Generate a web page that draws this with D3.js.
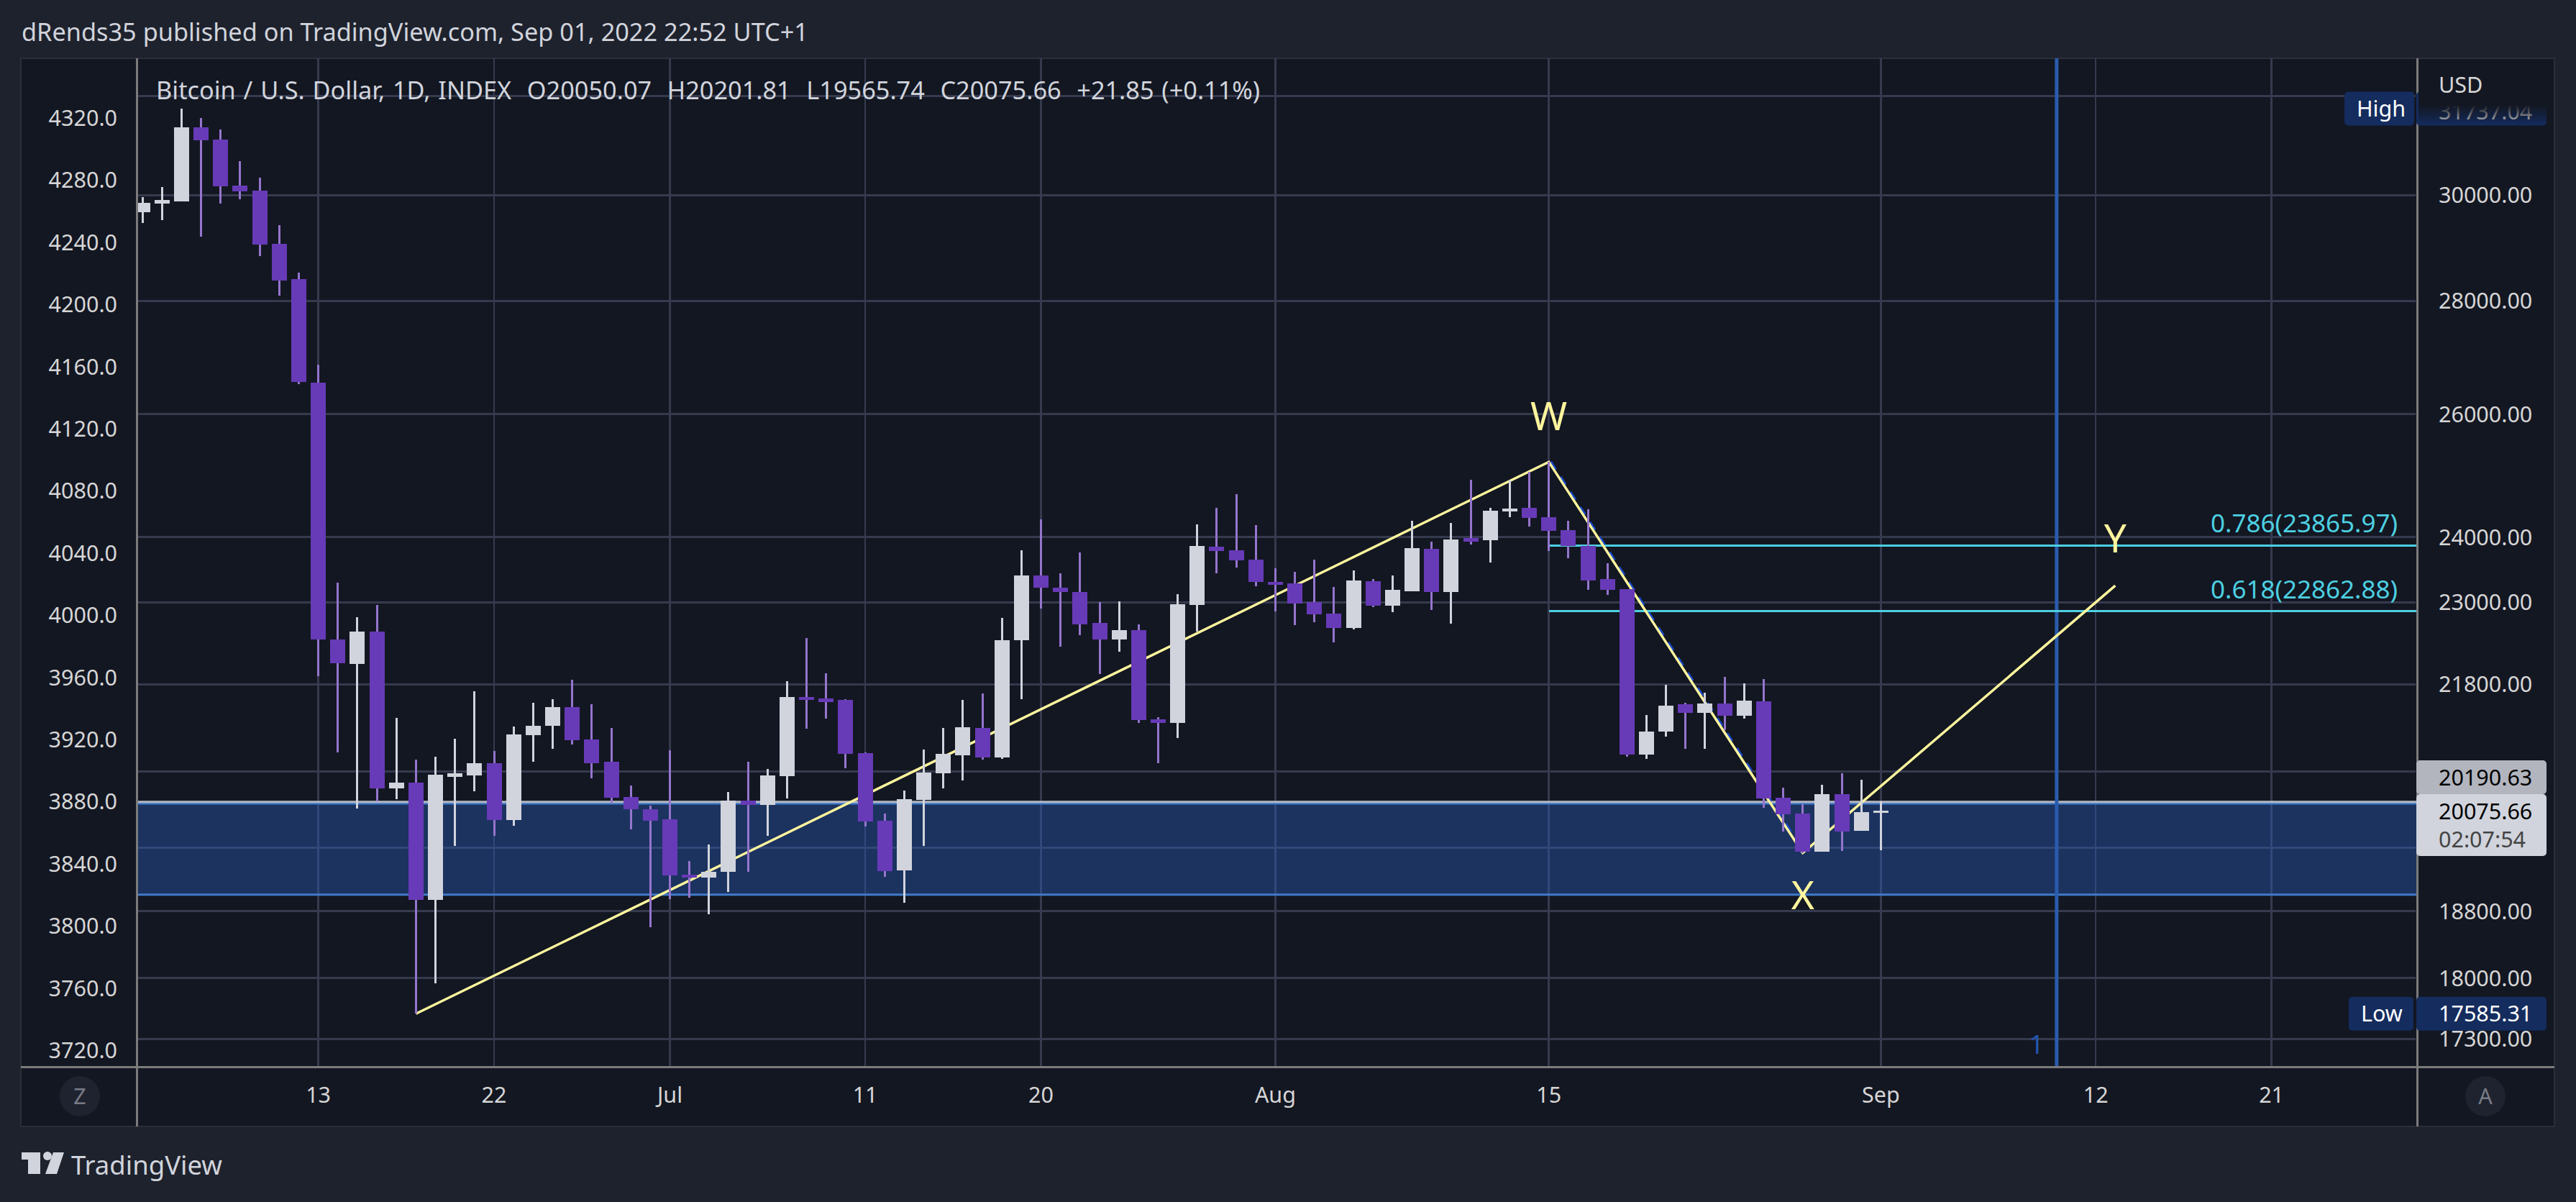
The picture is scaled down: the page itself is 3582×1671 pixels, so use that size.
<!DOCTYPE html>
<html><head><meta charset="utf-8">
<style>html,body{margin:0;padding:0;background:#1e222d;overflow:hidden}svg{display:block}text{font-family:"Noto Sans",sans-serif;white-space:pre}</style>
<script src="https://cdn.jsdelivr.net/npm/d3@7/dist/d3.min.js"></script>
</head><body><script>
// ---- data ----
const firstDay = "2022-06-04";
const opens = [29665,29830,29880,31355,31105,30185,30085,29060,28400,26545,22450,22095,22565,20370,20445,18940,20525,20545,20710,19955,21090,21220,21480,21030,20730,20255,20095,19965,19255,19220,19290,20210,20155,20535,21625,21605,21585,20845,19945,19310,20220,20575,20815,21190,20785,22440,23405,23220,23155,22695,22450,22585,21310,21260,22960,23850,23795,23650,23310,23285,23005,22830,22620,23320,22950,23170,23815,23155,23985,23950,24405,24460,24315,24110,23860,23350,23195,20825,21140,21520,21400,21530,21360,21560,20245,20040,19545,20295,19815,20050.07];
const highs = [29960,30155,31737,31545,31310,30670,30340,29415,28520,26855,23295,22780,22960,21330,20760,20795,21040,21705,20875,21210,21540,21595,21865,21520,21190,20410,20145,20885,19430,19640,20325,20730,20630,21845,22470,21960,21595,20855,20040,20340,20895,21190,21585,21675,22765,23795,24280,23440,23760,23005,23015,22670,21340,23125,24200,24460,24680,24190,23515,23460,23650,23230,23485,23350,23405,24255,23930,24225,24915,24460,24915,25040,25205,24255,24440,23595,23200,21370,21795,21535,21685,21910,21815,21875,20380,20165,20420,20575,20485,20201.81];
const lows = [29460,29515,29870,29195,29830,29915,28830,28095,26520,21915,20855,20105,20200,20230,17585,17940,19620,20330,19750,19880,20730,20905,20965,20505,20170,19835,18605,18950,18970,18765,19040,19290,19750,20240,21180,21320,20640,19870,19230,18905,19615,20370,20475,20760,20770,21595,22905,22345,22515,21950,22270,21260,20710,21050,22565,23440,23530,23245,22865,22660,22705,22405,22600,22930,22850,23165,22885,22685,23885,23605,24315,24165,23785,23670,23190,23110,20795,20770,21070,20905,20905,21160,21320,20115,19805,19530,19545,19555,19815,19565.74];
const closes = [29850,29900,31355,31090,30170,30070,29045,28370,26555,22450,22105,22565,20370,20445,18940,20555,20575,20710,19955,21100,21220,21480,21020,20710,20245,20090,19945,19245,19220,19290,20210,20155,20545,21625,21585,21550,20835,19935,19300,20230,20585,20835,21200,20785,22440,23405,23220,23155,22670,22450,22585,21300,21260,22970,23860,23785,23640,23310,23265,22985,22820,22620,23330,22950,23190,23830,23155,23960,23930,24415,24450,24300,24100,23860,23330,23190,20825,21140,21500,21400,21530,21360,21570,20240,20030,19545,20295,19805,20054,20075.66];

const priceGrid = [32000,30000,28000,26000,24000,23000,21800,20600,19600,18800,18000,17300];
const priceLabels = [30000,28000,26000,24000,23000,21800,18800,18000,17300];
const indexLabels = [4320,4280,4240,4200,4160,4120,4080,4040,4000,3960,3920,3880,3840,3800,3760,3720];
const timeTickDates = ["2022-06-13","2022-06-22","2022-07-01","2022-07-11","2022-07-20","2022-08-01","2022-08-15","2022-09-01","2022-09-12","2022-09-21"];
const timeTickLabels = ["13","22","Jul","11","20","Aug","15","Sep","12","21"];
const wave = [["2022-06-18",17585],["2022-08-15",25205],["2022-08-28",19530],["2022-09-13",23250]];
const waveLabels = [["W","2022-08-15",25975],["X","2022-08-28",19005],["Y","2022-09-13",23985]];
const fibLevels = [["0.786",23865.97],["0.618",22862.88]];
const fibStart = "2022-08-15";
const bandPrices = [20170,19005];
const markerDate = "2022-09-10";
const lastPrevClose = 20190.63, lastClose = 20075.66, seriesHigh = 31737.04, seriesLow = 17585.31;
const titleText = "dRends35 published on TradingView.com, Sep 01, 2022 22:52 UTC+1";
const legendText = "Bitcoin / U.S. Dollar, 1D, INDEX  O20050.07  H20201.81  L19565.74  C20075.66  +21.85 (+0.11%)";

// ---- geometry & style ----
const W=3582,H=1671,L=190,R=3361,T=81,B=1483,FL=29,FR=3552,FB=1566;
const FS=30.5, grid="#363a4e", bg="#131722", outer="#1e222d", axisLine="#7b7b7b", ink="#d6d6d6";
const up="#d1d4dc", down="#673ab7", downWick="#9575cd", yellow="#fff59d", cyan="#4dd0e1", badge="#142c5e";

const parse = d3.utcParse("%Y-%m-%d");
const x = d3.scaleUtc().domain([parse("2022-06-13"),parse("2022-09-21")]).range([442.6,3158.6]);
const y = d3.scaleLog().domain([32798,16987]).range([T,B]);
const yIndex = d3.scaleLinear().domain([3720,4320]).range([1460,164]);
const candles = opens.map((o,i)=>({date:d3.utcDay.offset(parse(firstDay),i),o,h:highs[i],l:lows[i],c:closes[i]}));

const svg = d3.select("body").append("svg").attr("width",W).attr("height",H).attr("viewBox",`0 0 ${W} ${H}`);
const defs = svg.append("defs");
defs.append("clipPath").attr("id","plot").append("rect").attr("x",L).attr("y",T).attr("width",R-L).attr("height",B-T);
const grad = defs.append("linearGradient").attr("id","fade").attr("x1",0).attr("y1",0).attr("x2",0).attr("y2",1);
grad.append("stop").attr("offset",0.4).attr("stop-color",bg).attr("stop-opacity",1);
grad.append("stop").attr("offset",1).attr("stop-color",bg).attr("stop-opacity",0);

svg.append("rect").attr("width",W).attr("height",H).attr("fill",outer);
svg.append("rect").attr("x",FL).attr("y",T).attr("width",FR-FL).attr("height",FB-T).attr("fill",bg).attr("stroke","#2a2e39").attr("stroke-width",2);

const plot = svg.append("g").attr("clip-path","url(#plot)");
const crisp = plot.append("g").attr("shape-rendering","crispEdges");
crisp.selectAll(".vg").data(timeTickDates).join("line").attr("x1",d=>x(parse(d))).attr("x2",d=>x(parse(d))).attr("y1",T).attr("y2",B).attr("stroke",grid).attr("stroke-width",2.5);
crisp.selectAll(".hg").data(priceGrid).join("line").attr("class","hg").attr("x1",L).attr("x2",R-2).attr("y1",d=>y(d)).attr("y2",d=>y(d)).attr("stroke",grid).attr("stroke-width",3);

// band
plot.append("rect").attr("x",L).attr("width",R-L).attr("y",y(bandPrices[0])).attr("height",y(bandPrices[1])-y(bandPrices[0])).attr("fill","rgba(42,95,190,.4)");
plot.selectAll(".bl").data(bandPrices).join("line").attr("x1",L).attr("x2",R).attr("y1",d=>y(d)).attr("y2",d=>y(d)).attr("stroke","#3f7bc9").attr("stroke-width",3);
plot.append("line").attr("x1",L).attr("x2",R).attr("y1",y(lastPrevClose)).attr("y2",y(lastPrevClose)).attr("stroke","#b6b8c2").attr("stroke-width",3);

// vertical marker
plot.append("line").attr("x1",x(parse(markerDate))).attr("x2",x(parse(markerDate))).attr("y1",T).attr("y2",B).attr("stroke","#2a5bad").attr("stroke-width",5);
svg.append("text").attr("x",x(parse(markerDate))-28).attr("y",1452).attr("dy",".36em").attr("text-anchor","middle").attr("font-size",37).attr("fill","#2456ad").text("1");

// fib
plot.append("g").attr("shape-rendering","crispEdges").selectAll(".fib").data(fibLevels).join("line").attr("x1",x(parse(fibStart))).attr("x2",R).attr("y1",d=>y(d[1])).attr("y2",d=>y(d[1])).attr("stroke",cyan).attr("stroke-width",3);
svg.selectAll(".fibt").data(fibLevels).join("text").attr("x",3334).attr("y",d=>y(d[1])-31).attr("dy",".36em").attr("text-anchor","end").attr("font-size",35).attr("fill",cyan).text(d=>`${d[0]}(${d[1].toFixed(2)})`);

// wave lines
const waveLine = d3.line().x(d=>x(parse(d[0]))).y(d=>y(d[1]));
plot.append("path").attr("d",waveLine(wave.slice(1,3))).attr("transform","translate(2,0)").attr("fill","none").attr("stroke","#1848c8").attr("stroke-width",5).attr("stroke-dasharray","13 12");
plot.append("path").attr("d",waveLine(wave)).attr("fill","none").attr("stroke",yellow).attr("stroke-width",3.5);

// candles
const cg = plot.append("g").attr("shape-rendering","crispEdges");
cg.selectAll(".wick").data(candles).join("line").attr("x1",d=>x(d.date)).attr("x2",d=>x(d.date)).attr("y1",d=>y(d.h)).attr("y2",d=>y(d.l)).attr("stroke",d=>d.c>=d.o?up:downWick).attr("stroke-width",3);
cg.selectAll(".body").data(candles).join("rect").attr("x",d=>x(d.date)-10.5).attr("width",21).attr("y",d=>y(Math.max(d.o,d.c))).attr("height",d=>Math.max(2,Math.abs(y(d.o)-y(d.c)))).attr("fill",d=>d.c>=d.o?up:down);

// W X Y
svg.selectAll(".wl").data(waveLabels).join("text").attr("x",d=>x(parse(d[1]))).attr("y",d=>y(d[2])).attr("dy",".36em").attr("text-anchor","middle").attr("font-size",55).attr("fill",yellow).text(d=>d[0]);

// axis lines
const ax = svg.append("g").attr("stroke",axisLine).attr("stroke-width",3).attr("shape-rendering","crispEdges");
ax.append("line").attr("x1",L).attr("x2",L).attr("y1",T).attr("y2",FB);
ax.append("line").attr("x1",R).attr("x2",R).attr("y1",T).attr("y2",FB);
ax.append("line").attr("x1",FL).attr("x2",FR).attr("y1",B).attr("y2",B);

// texts
const txt=(s,xx,yy,opt={})=>svg.append("text").attr("x",xx).attr("y",yy).attr("dy",".36em").attr("font-size",opt.fs||FS).attr("fill",opt.fill||ink).attr("text-anchor",opt.anchor||"start").attr("word-spacing",opt.ws||0).text(s);
txt(titleText,30,45,{fill:up,fs:34.3});
txt(legendText,217,126,{fill:up,fs:34.3,ws:1.9});
svg.selectAll(".li").data(indexLabels).join("text").attr("x",163).attr("y",d=>yIndex(d)).attr("dy",".36em").attr("text-anchor","end").attr("font-size",FS).attr("fill",ink).text(d=>d.toFixed(1));
svg.selectAll(".lp").data(priceLabels).join("text").attr("x",3391).attr("y",d=>y(d)).attr("dy",".36em").attr("font-size",FS).attr("fill",ink).text(d=>d.toFixed(2));
svg.selectAll(".lt").data(timeTickDates).join("text").attr("x",d=>x(parse(d))).attr("y",1522).attr("dy",".36em").attr("text-anchor","middle").attr("font-size",FS).attr("fill",ink).text((d,i)=>timeTickLabels[i]);

// High badge
const box=(x0,x1,y0,y1,fill)=>svg.append("rect").attr("x",x0).attr("y",y0).attr("width",x1-x0).attr("height",y1-y0).attr("rx",5).attr("fill",fill);
const hy=y(seriesHigh);
box(3260,3357,hy-23.5,hy+23.5,badge);
box(3360,3541,hy-23.5,hy+23.5,badge);
txt("High",3277,hy,{fill:"#ffffff"});
txt(seriesHigh.toFixed(2),3391,hy+4,{fill:"#d6d6d6"});
svg.append("rect").attr("x",3363).attr("y",hy-24).attr("width",180).attr("height",48).attr("fill","url(#fade)");
txt("USD",3391,118);

// Low badge
const ly=y(seriesLow);
box(3266,3356,ly-23.5,ly+23.5,badge);
box(3360,3541,ly-23.5,ly+23.5,badge);
txt("Low",3283,ly,{fill:"#ffffff"});
txt(seriesLow.toFixed(2),3391,ly,{fill:"#ffffff"});

// last price badges
box(3360,3541,1057,1104,"#b2b5be");
box(3360,3541,1104,1190,up);
txt(lastPrevClose.toFixed(2),3391,1081,{fill:"#000000"});
txt(lastClose.toFixed(2),3391,1128,{fill:"#000000"});
txt("02:07:54",3391,1167,{fill:"#444444"});

// corner buttons
[[111,"Z"],[3456,"A"]].forEach(([cx,s])=>{
  svg.append("circle").attr("cx",cx).attr("cy",1524).attr("r",28).attr("fill","#1f2330");
  txt(s,cx,1524,{anchor:"middle",fill:"#787b86"});
});

// logo
const logo = svg.append("g").attr("fill","#d1d4dc");
logo.append("path").attr("d","M30 1602H56V1632H39V1612H30Z");
logo.append("circle").attr("cx",66).attr("cy",1607).attr("r",6);
logo.append("path").attr("d","M74 1602H89L79 1632H63Z");
txt("TradingView",99,1620,{fs:36.5,fill:"#d1d4dc"});
</script></body></html>
